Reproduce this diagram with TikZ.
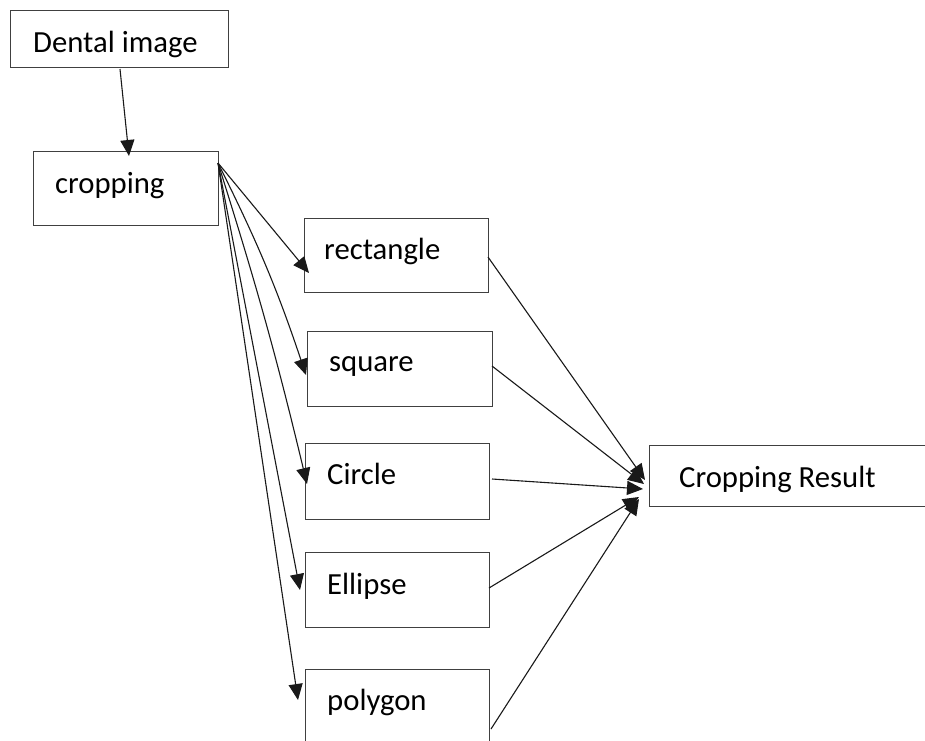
\documentclass[tikz,border=0pt]{standalone}
\usepackage{fontspec}
\setmainfont{Carlito}
\usetikzlibrary{arrows.meta}
\begin{document}
\begin{tikzpicture}[x=1pt,y=-1pt,
  box/.style={draw=black!75,line width=1.3pt,rectangle,inner sep=0pt,anchor=north west},
  lbl/.style={anchor=base west,inner sep=0pt,font=\fontsize{30.7}{36}\selectfont},
  arr/.style={draw=black!90,line width=1.1pt,-{Triangle[length=16pt,width=14pt]}},
  ln/.style={draw=black!85,line width=1.1pt}]
\useasboundingbox (0,0) rectangle (925,740);
\fill[white] (0,0) rectangle (925,740);
% boxes
\node[box,minimum width=218pt,minimum height=57pt] (dental) at (10,10) {};
\node[box,minimum width=185pt,minimum height=74pt] (crop) at (33,151) {};
\node[box,minimum width=184pt,minimum height=74pt] (rect) at (304,218) {};
\node[box,minimum width=185pt,minimum height=75pt] (sq) at (307,331) {};
\node[box,minimum width=184pt,minimum height=76pt] (circ) at (305,443) {};
\node[box,minimum width=184pt,minimum height=75pt] (ell) at (305,552) {};
\node[box,minimum width=184pt,minimum height=80pt] (poly) at (305,669) {};
\node[box,minimum width=282pt,minimum height=61pt] (res) at (649,445) {};
% labels
\node[lbl] (tdental) at (33,52) {Dental image};
\node[lbl] (tcrop) at (55,193) {cropping};
\node[lbl] (trect) at (324,259) {rectangle};
\node[lbl] (tsq) at (329,371) {square};
\node[lbl] (tcirc) at (327,484) {Circle};
\node[lbl] (tell) at (327,594) {Ellipse};
\node[lbl] (tpoly) at (327,710) {polygon};
\node[lbl] (tres) at (679,487) {Cropping Result};
% anchor points
\coordinate (dout) at (120,69);
\coordinate (din) at (129,156);
\coordinate (fan) at (218,163);
\coordinate (rin) at (309,273);
\coordinate (sin) at (306,375);
\coordinate (cin) at (307,484);
\coordinate (ein) at (300,590);
\coordinate (pin) at (298,700);
\coordinate (rout) at (488,257);
\coordinate (sout) at (492,366);
\coordinate (cout) at (492,479);
\coordinate (eout) at (489,588);
\coordinate (pout) at (491,729);
\coordinate (r1) at (645,480);
\coordinate (r2) at (644,484);
\coordinate (r3) at (643,489);
\coordinate (r4) at (639,497);
\coordinate (r5) at (639,499);
% connectors
\draw[arr] (dout) -- (din);
\draw[arr] (fan) -- (rin);
\draw[arr] (fan) to[bend left=4] (sin);
\draw[arr] (fan) to[bend left=2] (cin);
\draw[arr] (fan) -- (ein);
\draw[arr] (fan) -- (pin);
\draw[arr] (rout) -- (r1);
\draw[arr] (sout) -- (r2);
\draw[arr] (cout) -- (r3);
\draw[arr] (eout) -- (r4);
\draw[arr] (pout) -- (r5);
\end{tikzpicture}
\end{document}
